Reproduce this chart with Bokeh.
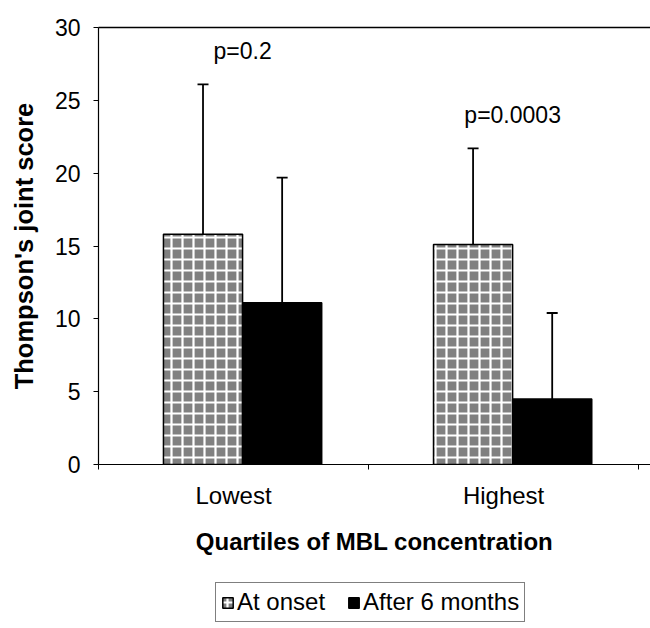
from bokeh.plotting import figure
from bokeh.layouts import column
from bokeh.models import (Range1d, FixedTicker, LinearAxis, Whisker, TeeHead,
                          ColumnDataSource, Legend, LegendItem)
from bokeh.core.properties import value
from bokeh.embed import file_html
from bokeh.resources import INLINE

# ---- data ----
categories = ["Lowest", "Highest"]
onset_mean = [15.8, 15.1]
onset_sd = [10.3, 6.6]
after_mean = [11.1, 4.5]
after_sd = [8.6, 5.9]
p_values = ["p=0.2", "p=0.0003"]
series_labels = ["At onset", "After 6 months"]
y_ticks = [0, 5, 10, 15, 20, 25, 30]

FONT = "Liberation Sans"
bar_w = 0.293
off_onset = -0.113
off_after = 0.18
ONSET_STYLE = dict(fill_color="#808080", hatch_pattern="+", hatch_color="white",
                   hatch_scale=11, hatch_weight=2.2, line_color="black", line_width=1.5)
AFTER_STYLE = dict(fill_color="black", line_color="black", line_width=1.5)

centers = [i + 0.5 for i in range(len(categories))]
x_onset = [c + off_onset for c in centers]
x_after = [c + off_after for c in centers]

src_on = ColumnDataSource(dict(x=x_onset, top=onset_mean,
                               upper=[m + s for m, s in zip(onset_mean, onset_sd)]))
src_af = ColumnDataSource(dict(x=x_after, top=after_mean,
                               upper=[m + s for m, s in zip(after_mean, after_sd)]))

p = figure(frame_width=552, frame_height=437,
           x_range=Range1d(0, 2.044), y_range=Range1d(0, 30),
           output_backend="svg", toolbar_location=None,
           min_border_left=98, min_border_top=27, min_border_right=0,
           min_border_bottom=100)
p.outline_line_color = None
p.grid.visible = False

p.vbar(x="x", top="top", width=bar_w, source=src_on, **ONSET_STYLE)
p.vbar(x="x", top="top", width=bar_w, source=src_af, **AFTER_STYLE)

for src in (src_on, src_af):
    w = Whisker(base="x", lower="top", upper="upper", source=src,
                dimension="height", line_width=1.8, line_color="black",
                upper_head=TeeHead(size=11, line_width=1.8, line_color="black"),
                lower_head=None, level="glyph")
    p.add_layout(w)

# p-value labels above the taller whisker of each group
p_x = [c + (off_onset + off_after) / 2 for c in centers]
p_y = [max(a, b) + 2.3 for a, b in zip(src_on.data["upper"], src_af.data["upper"])]
p.text(x=p_x, y=p_y, text=p_values, text_align="center", text_baseline="alphabetic",
       text_font=value(FONT), text_font_size="23px", text_color="black")

# x axis
xa = p.xaxis[0]
xa.ticker = FixedTicker(ticks=centers, minor_ticks=[0, 1, 2])
xa.major_label_overrides = {c: lab for c, lab in zip(centers, categories)}
xa.major_tick_out = 0
xa.major_tick_in = 0
xa.minor_tick_out = 5
xa.minor_tick_in = 0
xa.minor_tick_line_color = "black"
xa.major_label_text_font = FONT
xa.major_label_text_font_size = "24px"
xa.major_label_text_color = "black"
xa.major_label_standoff = 12
xa.axis_label = "Quartiles of MBL concentration"
xa.axis_label_text_font = FONT
xa.axis_label_text_font_style = "bold"
xa.axis_label_text_font_size = "24px"
xa.axis_label_text_color = "black"
xa.axis_label_standoff = 16
xa.axis_line_color = "black"
xa.axis_line_width = 1.2

# y axis
ya = p.yaxis[0]
ya.ticker = FixedTicker(ticks=y_ticks, minor_ticks=[])
ya.major_tick_out = 5
ya.major_tick_in = 0
ya.major_tick_line_color = "black"
ya.major_label_text_font = FONT
ya.major_label_text_font_size = "23px"
ya.major_label_text_color = "black"
ya.major_label_standoff = 13
ya.axis_label = "Thompson's joint score"
ya.axis_label_text_font = FONT
ya.axis_label_text_font_style = "bold"
ya.axis_label_text_font_size = "25.5px"
ya.axis_label_text_color = "black"
ya.axis_label_standoff = 14
ya.axis_line_color = "black"
ya.axis_line_width = 1.2

# top border line
top = LinearAxis(ticker=FixedTicker(ticks=[]), axis_line_color="black",
                 axis_line_width=1.5, major_label_text_font_size="0px")
p.add_layout(top, "above")

# ---- legend strip below the chart ----
p2 = figure(width=650, height=64, x_range=Range1d(0, 1), y_range=Range1d(0, 1),
            x_axis_location=None, y_axis_location=None,
            output_backend="svg", toolbar_location=None, min_border=0)
p2.grid.visible = False
p2.outline_line_color = None
l1 = p2.vbar(x="x", top="top", width=bar_w, source=src_on, visible=False, **ONSET_STYLE)
l2 = p2.vbar(x="x", top="top", width=bar_w, source=src_af, visible=False, **AFTER_STYLE)

legend = Legend(items=[LegendItem(label=series_labels[0], renderers=[l1]),
                       LegendItem(label=series_labels[1], renderers=[l2])],
                orientation="horizontal", location=(117, 6),
                border_line_color="black", border_line_width=1,
                label_text_font=FONT, label_text_font_size="24px",
                label_text_color="black", background_fill_alpha=0,
                glyph_width=13, glyph_height=13, spacing=22, padding=5,
                margin=0, label_standoff=3, click_policy="none")
p2.add_layout(legend, "center")

open("out.html", "w").write(file_html(column(p, p2), INLINE))
